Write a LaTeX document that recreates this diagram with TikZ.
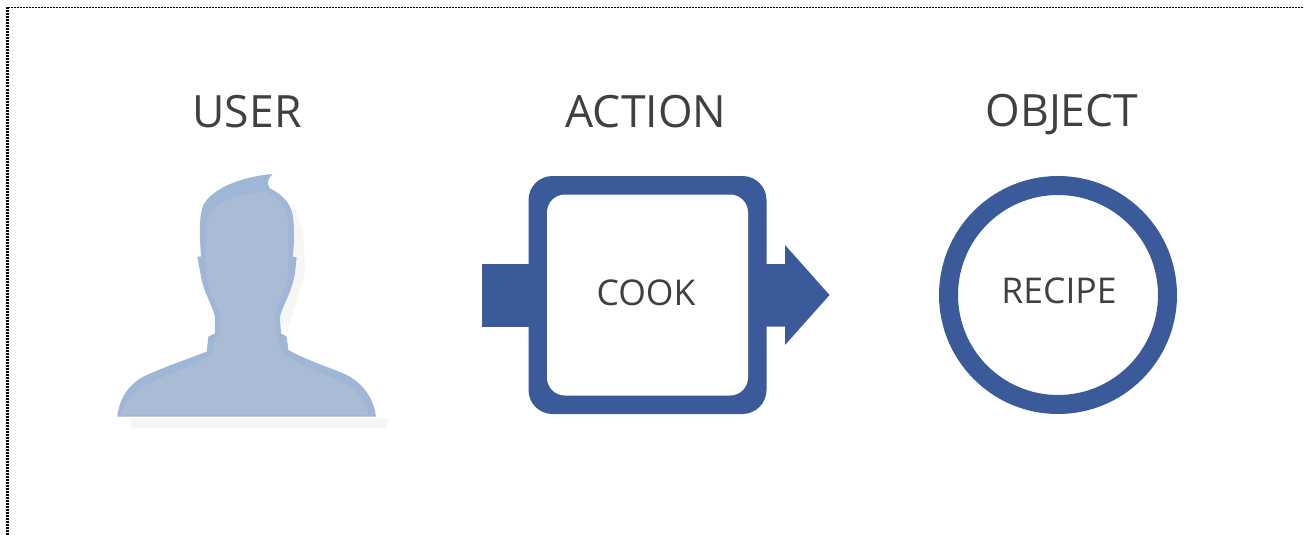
\documentclass[tikz,border=0pt]{standalone}
\usepackage{fontspec}
\setmainfont{Open Sans}
\definecolor{bluemain}{HTML}{3B5A9A}
\definecolor{headedge}{HTML}{A0B6D6}
\definecolor{headfill}{HTML}{A9BBD5}
\definecolor{headshadow}{HTML}{F6F6F4}
\definecolor{inktext}{HTML}{404040}
\tikzset{
  title/.style={text=inktext,font=\fontsize{44.5}{48}\selectfont,inner sep=0pt,anchor=base},
  inner label/.style={text=inktext,font=\fontsize{35.5}{38}\selectfont,inner sep=0pt,anchor=base},
  frame rule/.style={draw=black,dash pattern=on 2pt off 1pt}
}
\begin{document}
\begin{tikzpicture}[x=1pt,y=-1pt]
\useasboundingbox (0,0) rectangle (1304,535);
\fill[white] (0,0) rectangle (1304,535);
% frame
\coordinate (tl) at (7.5,7.5);
\coordinate (tr) at (1304,7.5);
\coordinate (bl) at (7.5,535);
\draw[frame rule,line width=1.6pt] (tl) -- (tr);
\draw[frame rule,line width=3pt] (tl) -- (bl);
% titles
\node[title] (user) at (247,127.5) {USER};
\node[title] (action) at (646,127.5) {ACTION};
\node[title] (object) at (1062,126) {OBJECT};
% silhouette
\def\silhouette{(52,770) .. controls (58,715) and (85,675) .. (130,650)
  .. controls (190,622) and (260,598) .. (320,575)
  -- (325,530) -- (345,520) -- (345,470)
  .. controls (335,430) and (312,400) .. (303,350)
  -- (292,290) -- (303,290)
  .. controls (299,230) and (296,170) .. (310,135)
  .. controls (335,90) and (410,52) .. (518,42)
  .. controls (508,52) and (496,65) .. (510,85)
  .. controls (550,105) and (578,135) .. (580,180)
  .. controls (584,220) and (582,260) .. (578,290)
  -- (590,292) -- (585,340)
  .. controls (575,400) and (550,430) .. (540,470)
  -- (543,520) -- (560,530) -- (565,570)
  .. controls (620,600) and (680,620) .. (730,640)
  .. controls (785,665) and (820,710) .. (828,770) -- cycle}
\begin{scope}[shift={(100,160)},x=0.3333pt,y=-0.3333pt]
  \fill[headshadow] (90,775) -- (865,775) -- (860,805) -- (95,805) -- cycle;
  \fill[headshadow] (580,130) -- (610,220) -- (615,340) -- (590,420) -- (560,520) -- (540,470) -- cycle;
  \fill[headedge] \silhouette;
  \begin{scope}
    \clip \silhouette;
    \fill[headfill] (60,765) .. controls (75,715) and (120,680) .. (180,655)
      .. controls (240,630) and (290,610) .. (335,585)
      -- (345,535) -- (360,520) -- (360,460)
      .. controls (345,420) and (325,400) .. (318,340)
      -- (318,200) .. controls (320,140) and (380,105) .. (495,95)
      .. controls (545,120) and (562,150) .. (565,200)
      -- (565,340) .. controls (555,400) and (530,430) .. (525,470)
      -- (530,535) -- (550,585)
      .. controls (620,625) and (700,650) .. (750,680)
      .. controls (785,705) and (800,735) .. (805,765) -- cycle;
  \end{scope}
\end{scope}
% action box and arrows
\fill[bluemain] (482,264) rectangle (535,326.5);
\fill[bluemain] (760,264) -- (785,264) -- (785,245) -- (829.5,295) -- (785,345) -- (785,326.5) -- (760,326.5) -- cycle;
\node[fill=bluemain,rounded corners=24pt,minimum width=238pt,minimum height=238pt,inner sep=0pt,outer sep=0pt] (box) at (647.5,295) {};
\node[fill=white,rounded corners=18pt,minimum width=201pt,minimum height=201pt,inner sep=0pt,outer sep=0pt] (boxin) at (box.center) {};
\node[inner label] (cook) at (646,305) {COOK};
% object circle
\node[circle,draw=bluemain,line width=19pt,fill=white,minimum size=219pt,inner sep=0pt,outer sep=0pt] (circ) at (1058,295) {};
\node[inner label] (recipe) at (1059,303) {RECIPE};
\end{tikzpicture}
\end{document}
